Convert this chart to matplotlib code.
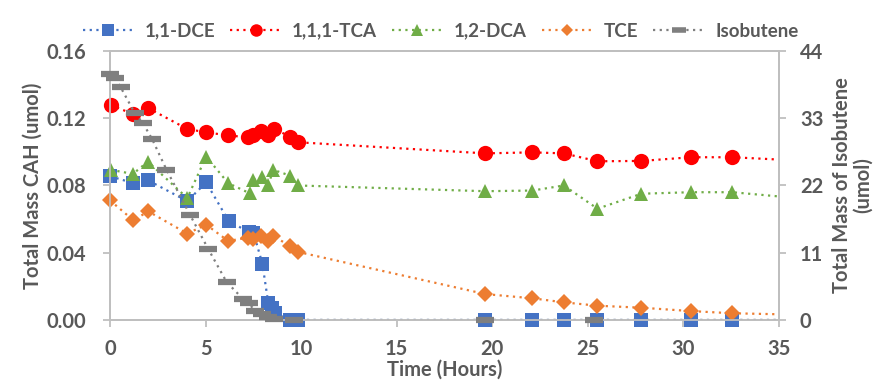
import numpy as np
import matplotlib
matplotlib.use("Agg")
import matplotlib.pyplot as plt
from matplotlib.lines import Line2D

plt.rcParams['font.family'] = ['Lato', 'DejaVu Sans']

# ---- data ----
t_dce = [0.0, 1.22, 2.0, 4.04, 5.03, 6.2, 7.25, 7.5, 7.97, 8.28, 8.45, 8.63, 9.4, 9.85,
         19.64, 22.1, 23.74, 25.5, 27.8, 30.4, 32.55, 37.5]
dce = [0.0855, 0.0814, 0.083, 0.0707, 0.0818, 0.059, 0.0523, 0.052, 0.0335, 0.0099, 0.007, 0.004, 0.0, 0.0,
       0.0, 0.0, 0.0, 0.0, 0.0, 0.0, 0.0, 0.0]

t_tca = [0.04, 1.2, 2.0, 4.04, 5.03, 6.18, 7.23, 7.49, 7.9, 8.27, 8.59, 9.41, 9.83,
         19.64, 22.1, 23.74, 25.5, 27.8, 30.4, 32.55, 37.5]
tca = [0.1278, 0.1225, 0.126, 0.1136, 0.1116, 0.1098, 0.1086, 0.110, 0.1122, 0.1098, 0.1138, 0.109, 0.1057,
       0.0991, 0.0997, 0.0991, 0.0944, 0.0946, 0.0968, 0.0968, 0.094]

t_dca = [0.04, 1.2, 1.98, 4.04, 5.03, 6.18, 7.3, 7.49, 7.94, 8.27, 8.54, 9.41, 9.83,
         19.64, 22.1, 23.74, 25.5, 27.8, 30.4, 32.55, 37.5]
dca = [0.0893, 0.0869, 0.0942, 0.0725, 0.0972, 0.0814, 0.0754, 0.0834, 0.085, 0.080, 0.0893, 0.0859, 0.080,
       0.0766, 0.077, 0.080, 0.0662, 0.0751, 0.076, 0.076, 0.0709]

t_tce = [0.0, 1.22, 2.0, 4.04, 5.03, 6.18, 7.23, 7.5, 7.9, 8.27, 8.54, 9.41, 9.83,
         19.64, 22.1, 23.74, 25.5, 27.8, 30.4, 32.55, 37.5]
tce = [0.0711, 0.0593, 0.0646, 0.0514, 0.0567, 0.047, 0.049, 0.0483, 0.050, 0.047, 0.050, 0.044, 0.0405,
       0.0154, 0.0129, 0.0105, 0.0085, 0.0073, 0.0053, 0.004, 0.0028]

t_iso = [0.0, 0.25, 0.55, 1.3, 1.7, 2.2, 2.95, 4.2, 5.14, 6.1, 6.97, 7.25, 7.6, 7.95, 8.25, 8.6, 9.6,
         19.64, 25.3, 37.5]
iso = [40.2, 39.6, 38.1, 33.8, 32.3, 29.6, 24.6, 17.1, 11.6, 6.2, 3.4, 2.7, 1.5, 0.9, 0.5, 0.15, 0.0,
       0.0, 0.0, 0.0]

labels = ['1,1-DCE', '1,1,1-TCA', '1,2-DCA', 'TCE', 'Isobutene']
colors = ['#4472C4', '#FF0000', '#70AD47', '#ED7D31', '#7F7F7F']
gray = '#595959'
axis_c = '#BFBFBF'

fig = plt.figure(figsize=(8.81, 3.83), dpi=100)
ax = fig.add_axes([0.1249, 0.1645, 0.7594, 0.7024])
ax2 = ax.twinx()

XMAX = 35


def draw(a, t, y, color, marker, ms, mew=0.0, lw=1.6):
    t = np.asarray(t)
    y = np.asarray(y)
    # line runs on past the axis end and is clipped there, markers are not clipped
    a.plot(t, y, linestyle=(0, (1, 2)), color=color, lw=lw)
    m = t <= XMAX
    a.plot(t[m], y[m], linestyle='none', marker=marker, ms=ms, color=color,
           mec=color, mew=mew, clip_on=False, zorder=3)


draw(ax, t_dce, dce, colors[0], 's', 10)
draw(ax, t_tca, tca, colors[1], 'o', 11)
draw(ax, t_dca, dca, colors[2], '^', 10)
draw(ax, t_tce, tce, colors[3], 'D', 8)
draw(ax2, t_iso, iso, colors[4], '_', 13, mew=4.5)

ax.set_xlim(0, XMAX)
ax.set_ylim(0, 0.16)
ax2.set_ylim(0, 44)
ax.set_xticks(np.arange(0, 36, 5))
ax.set_yticks(np.arange(0, 0.161, 0.04))
ax.set_yticklabels([f'{v:.2f}' for v in np.arange(0, 0.161, 0.04)])
ax2.set_yticks([0, 11, 22, 33, 44])

for a in (ax, ax2):
    for s in a.spines.values():
        s.set_color(axis_c)
        s.set_linewidth(1.3)
    a.tick_params(colors=axis_c, labelcolor=gray, labelsize=14.5, length=5, width=1.3)
    for lab in a.get_xticklabels() + a.get_yticklabels():
        lab.set_fontweight('bold')
ax.tick_params(axis='x', pad=9)
ax.tick_params(axis='y', pad=12)
ax2.tick_params(axis='y', pad=10)

ax.set_xlabel('Time (Hours)', fontsize=14.5, color=gray, fontweight='bold', labelpad=0)
ax.set_ylabel('Total Mass CAH (umol)', fontsize=14.5, color=gray, fontweight='bold', labelpad=3)
ax2.set_ylabel('Total Mass of Isobutene\n(umol)', fontsize=14.5, color=gray, fontweight='bold',
               labelpad=6, linespacing=1.1)

markers = ['s', 'o', '^', 'D', '_']
sizes = [8, 9, 8, 6.5, 10]
handles = []
for c, mk, sz in zip(colors, markers, sizes):
    handles.append(Line2D([], [], color=c, linestyle=(0, (1, 2)), lw=1.6, marker=mk, ms=sz,
                          mew=4 if mk == '_' else 0))
leg = fig.legend(handles, labels, loc='upper center', bbox_to_anchor=(0.5, 0.985), ncol=5,
                 frameon=False, fontsize=13.5, handlelength=2.7, columnspacing=0.8, handletextpad=0.6)
for txt in leg.get_texts():
    txt.set_color(gray)
    txt.set_fontweight('bold')

fig.savefig('out.png', dpi=100)
